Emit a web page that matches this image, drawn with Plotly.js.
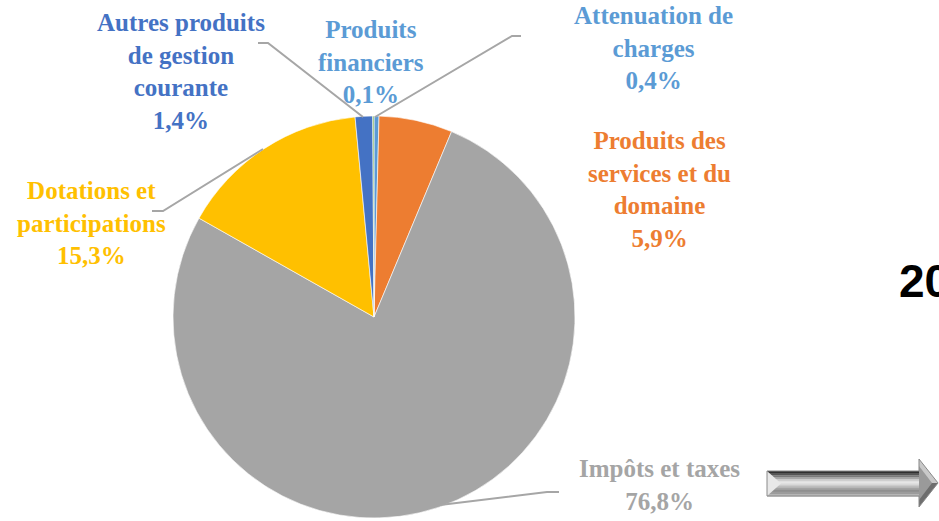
<!DOCTYPE html>
<html>
<head>
<meta charset="utf-8">
<script src="https://cdn.plot.ly/plotly-3.0.1.min.js"></script>
<style>html,body{margin:0;padding:0;background:#fff;overflow:hidden}#chart{width:939px;height:521px}</style>
</head>
<body>
<div id="chart"></div>
<script>
// ---- data (clockwise from 12 o'clock) ----
var categories = ["Attenuation de charges", "Produits des services et du domaine", "Impôts et taxes", "Dotations et participations", "Autres produits de gestion courante", "Produits financiers"];
var labelLines = ["Attenuation de<br>charges", "Produits des<br>services et du<br>domaine", "Impôts et taxes", "Dotations et<br>participations", "Autres produits<br>de gestion<br>courante", "Produits<br>financiers"];
var shares = [0.4, 5.9, 76.8, 15.3, 1.4, 0.1];
var sliceColors = ["#5B9BD5", "#ED7D31", "#A5A5A5", "#FFC000", "#4472C4", "#70AD47"];
var labelColors = ["#5B9BD5", "#ED7D31", "#A5A5A5", "#FFC000", "#4472C4", "#5B9BD5"];
var sideTitle = "20";

// ---- layout helpers (pixel -> paper) ----
var W = 939, H = 521;
function px(x){ return x / W; }
function py(y){ return 1 - y / H; }
function path(pts){ return pts.map(function(p,i){ return (i ? "L" : "M") + px(p[0]).toFixed(5) + "," + py(p[1]).toFixed(5); }).join(" ") + ""; }

var labelPos = [[653, 48], [659, 189], [659, 485], [91, 223], [181, 71], [371, 62]];

var annotations = categories.map(function(c, i){
  return {
    text: labelLines[i] + "<br>" + shares[i].toFixed(1).replace(".", ",") + "%",
    x: px(labelPos[i][0]), y: py(labelPos[i][1]), xref: "paper", yref: "paper",
    xanchor: "center", yanchor: "middle", showarrow: false, align: "center",
    font: {family: "Liberation Serif", size: 25, color: labelColors[i], weight: "bold"}
  };
});
annotations.push({
  text: "<b>" + sideTitle + "</b>", x: px(897), y: py(281), xref: "paper", yref: "paper",
  xanchor: "left", yanchor: "middle", showarrow: false,
  font: {family: "Liberation Sans", size: 46, color: "#000"}
});

var leader = {type: "path", xref: "paper", yref: "paper", line: {color: "#A6A6A6", width: 2}};
var shapes = [
  Object.assign({}, leader, {path: path([[258,43],[268,43],[363,117]])}),
  Object.assign({}, leader, {path: path([[375,117],[512,36],[521,36]])}),
  Object.assign({}, leader, {path: path([[152,211],[163,211],[263,149]])}),
  Object.assign({}, leader, {path: path([[440,505],[547,492],[559,492]])})
];

// arrow (3D-look grey block arrow)
var strips = ["#2f2f2f","#555","#7a7a7a","#a8a8a8","#cfcfcf","#e6e6e6","#d8d8d8","#bdbdbd","#a3a3a3","#8f8f8f","#9c9c9c","#b5b5b5"];
var sh = 25 / strips.length;
strips.forEach(function(c, k){
  var y0 = 471 + k * sh, y1 = 471 + (k + 1) * sh + 0.4;
  shapes.push({type: "path", xref: "paper", yref: "paper", line: {width: 0}, fillcolor: c,
    path: path([[767,y0],[919,y0],[919,y1],[767,y1]]) + " Z"});
});
shapes.push({type: "path", xref: "paper", yref: "paper", line: {width: 0}, fillcolor: "#e8e8e8",
  path: path([[767,471],[781,483.5],[767,496]]) + " Z"});
shapes.push({type: "path", xref: "paper", yref: "paper", line: {width: 0}, fillcolor: "#c9c9c9",
  path: path([[919,459],[938,483],[919,483]]) + " Z"});
shapes.push({type: "path", xref: "paper", yref: "paper", line: {width: 0}, fillcolor: "#6e6e6e",
  path: path([[919,483],[938,483],[919,507]]) + " Z"});
shapes.push({type: "path", xref: "paper", yref: "paper", line: {width: 0}, fillcolor: "#9a9a9a",
  path: path([[919,466],[932,483],[919,500]]) + " Z"});
shapes.push({type: "path", xref: "paper", yref: "paper", line: {color: "#8a8a8a", width: 1}, fillcolor: "rgba(0,0,0,0)",
  path: path([[767,471],[919,471],[919,459],[938,483],[919,507],[919,496],[767,496]]) + " Z"});

var trace = {
  type: "pie", labels: categories, values: shares, sort: false, direction: "clockwise", rotation: 0,
  marker: {colors: sliceColors, line: {color: "#ffffff", width: 0.6}},
  textinfo: "none", hoverinfo: "label+percent", showlegend: false,
  domain: {x: [px(173), px(575)], y: [py(518), py(116)]}
};

var layout = {
  width: W, height: H, margin: {l: 0, r: 0, t: 0, b: 0},
  paper_bgcolor: "#ffffff", plot_bgcolor: "#ffffff", showlegend: false,
  annotations: annotations, shapes: shapes
};

Plotly.newPlot("chart", [trace], layout, {displayModeBar: false, staticPlot: true});
</script>
</body>
</html>
